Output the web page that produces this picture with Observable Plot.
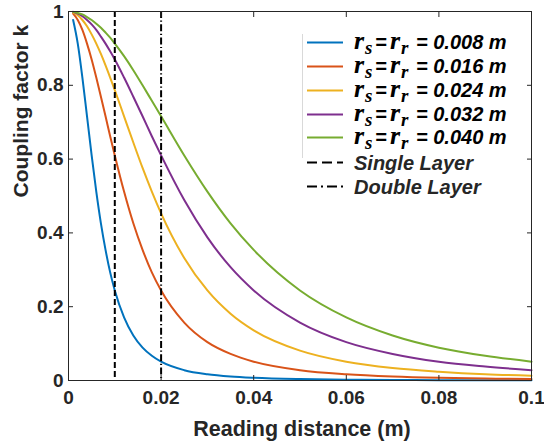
<!DOCTYPE html>
<html>
<head>
<meta charset="utf-8">
<script src="https://cdn.jsdelivr.net/npm/d3@7"></script>
<script src="https://cdn.jsdelivr.net/npm/@observablehq/plot@0.6"></script>
<style>
  html, body { margin: 0; padding: 0; background: #fff; }
  #chart { width: 544px; height: 445px; }
</style>
</head>
<body>
<div id="chart"></div>
<script>
// Reading distance (m)
const distance = [0.001, 0.002, 0.003, 0.004, 0.005, 0.006, 0.007, 0.008, 0.009, 0.010,
  0.012, 0.014, 0.016, 0.018, 0.020, 0.025, 0.030, 0.035, 0.040, 0.050, 0.060, 0.070, 0.080, 0.090, 0.100];

// Coupling factor k for each coil radius
const k008 = [0.977, 0.913, 0.821, 0.716, 0.610, 0.512, 0.426, 0.354, 0.293, 0.244,
  0.171, 0.122, 0.089, 0.067, 0.051, 0.028, 0.017, 0.011, 0.0075, 0.0039, 0.0023, 0.0015, 0.0010, 0.0007, 0.0005];
const k016 = [0.994, 0.977, 0.950, 0.913, 0.870, 0.821, 0.769, 0.716, 0.662, 0.610,
  0.512, 0.426, 0.354, 0.293, 0.244, 0.157, 0.104, 0.072, 0.051, 0.028, 0.017, 0.011, 0.0075, 0.0054, 0.0039];
const k024 = [0.997, 0.990, 0.977, 0.960, 0.938, 0.913, 0.885, 0.854, 0.821, 0.787,
  0.716, 0.645, 0.576, 0.512, 0.453, 0.332, 0.244, 0.181, 0.136, 0.081, 0.051, 0.034, 0.024, 0.017, 0.013];
const k032 = [0.999, 0.994, 0.987, 0.977, 0.965, 0.950, 0.932, 0.913, 0.892, 0.870,
  0.821, 0.769, 0.716, 0.662, 0.610, 0.489, 0.388, 0.307, 0.244, 0.157, 0.104, 0.072, 0.051, 0.038, 0.028];
const k040 = [0.999, 0.996, 0.992, 0.985, 0.977, 0.967, 0.956, 0.943, 0.929, 0.913,
  0.879, 0.841, 0.800, 0.758, 0.716, 0.610, 0.512, 0.426, 0.354, 0.244, 0.171, 0.122, 0.089, 0.067, 0.051];

const seriesValues = [k008, k016, k024, k032, k040];
const radii = ["0.008", "0.016", "0.024", "0.032", "0.040"];
const seriesColors = ["#0072BD", "#D95319", "#EDB120", "#7E2F8E", "#77AC30"];

// Layer reading distances (vertical reference lines)
const singleLayer = [0.01];
const doubleLayer = [0.02];
const layerLabels = ["Single Layer", "Double Layer"];

const xTicks = [0, 0.02, 0.04, 0.06, 0.08, 0.1];
const xTickLabels = ["0", "0.02", "0.04", "0.06", "0.08", "0.1"];
const yTicks = [0, 0.2, 0.4, 0.6, 0.8, 1];
const yTickLabels = ["0", "0.2", "0.4", "0.6", "0.8", "1"];
const xTitle = "Reading distance (m)";
const yTitle = "Coupling factor k";

const rows = seriesValues.flatMap((vals, s) =>
  vals.map((k, i) => ({d: distance[i], k, series: radii[s]})));

const ink = "#262626";
const font = "'Liberation Sans', Arial, Helvetica, sans-serif";

const chart = Plot.plot({
  width: 544,
  height: 445,
  marginLeft: 68,
  marginRight: 13,
  marginTop: 11,
  marginBottom: 65,
  style: {fontFamily: font, color: ink, background: "#fff"},
  x: {domain: [0, 0.1]},
  y: {domain: [0, 1]},
  color: {domain: radii, range: seriesColors},
  marks: [
    Plot.line(rows, {x: "d", y: "k", stroke: "series", strokeWidth: 2, curve: "monotone-x"}),
    Plot.ruleX(singleLayer, {stroke: "#000", strokeWidth: 2, strokeDasharray: "6,3"}),
    Plot.ruleX(doubleLayer, {stroke: "#000", strokeWidth: 2, strokeDasharray: "7,2.5,1.2,2.5"}),
    Plot.frame({stroke: ink, strokeWidth: 1}),
    // inward ticks on all four sides (outward ticks shifted inside the frame)
    Plot.axisX(xTicks, {anchor: "bottom", tickSize: 5, dy: -5, tickFormat: () => "", label: null, stroke: ink}),
    Plot.axisX(xTicks, {anchor: "top", tickSize: 5, dy: 5, tickFormat: () => "", label: null, stroke: ink}),
    Plot.axisY(yTicks, {anchor: "left", tickSize: 5, dx: 5, tickFormat: () => "", label: null, stroke: ink}),
    Plot.axisY(yTicks, {anchor: "right", tickSize: 5, dx: -5, tickFormat: () => "", label: null, stroke: ink}),
    // tick labels
    Plot.axisX(xTicks, {anchor: "bottom", tickSize: 0, tickPadding: 10, tickFormat: (d, i) => xTickLabels[i],
      label: null, fontSize: 19, fontWeight: "bold", fill: ink}),
    Plot.axisY(yTicks, {anchor: "left", tickSize: 0, tickPadding: 5, tickFormat: (d, i) => yTickLabels[i],
      label: null, fontSize: 19, fontWeight: "bold", fill: ink}),
    // axis titles
    Plot.text([xTitle], {frameAnchor: "bottom", text: d => d, dy: 40, dx: 2, lineAnchor: "top",
      fontSize: 21.5, fontWeight: "bold", fill: ink}),
    Plot.text([yTitle], {frameAnchor: "left", text: d => d, dx: -55, dy: 1.5, rotate: -90, lineAnchor: "top",
      fontSize: 21, fontWeight: "bold", fill: ink})
  ]
});

document.getElementById("chart").appendChild(chart);

// Legend (drawn inside the plot area)
const svg = d3.select(chart);
const lg = svg.append("g").attr("class", "legend").attr("text-anchor", "start");
const rowY = [42.5, 66.5, 90.5, 114.5, 137.5, 162.5, 186.5];
const sx0 = 307, sx1 = 343, tx = 354;

lg.append("line").attr("x1", 302.5).attr("x2", 302.5).attr("y1", 34).attr("y2", 158)
  .attr("stroke", "#d9d9d9").attr("stroke-width", 1);

const serif = "'Liberation Serif', 'Times New Roman', serif";
radii.forEach((r, i) => {
  const y = rowY[i];
  lg.append("line").attr("x1", sx0).attr("x2", sx1).attr("y1", y).attr("y2", y)
    .attr("stroke", seriesColors[i]).attr("stroke-width", 2);
  const t = lg.append("text").attr("y", y + 6.5).attr("text-anchor", "start")
    .attr("font-family", font).attr("font-weight", "bold").attr("font-style", "italic")
    .attr("font-size", 20).attr("fill", "#000");
  t.append("tspan").attr("x", tx).attr("font-family", serif).attr("font-size", 26).text("r");
  t.append("tspan").attr("x", tx + 11).attr("font-family", serif).attr("font-size", 19).attr("dy", 5).text("s");
  t.append("tspan").attr("x", tx + 21).attr("dy", -5).text("=");
  t.append("tspan").attr("x", tx + 36).attr("font-family", serif).attr("font-size", 26).text("r");
  t.append("tspan").attr("x", tx + 47).attr("font-family", serif).attr("font-size", 19).attr("dy", 5).text("r");
  t.append("tspan").attr("x", tx + 62).attr("dy", -5).text("= " + r + " m");
});

const dashes = ["10,5", "10,4,2,4"];
layerLabels.forEach((lab, j) => {
  const y = rowY[5 + j];
  lg.append("line").attr("x1", sx0).attr("x2", sx1).attr("y1", y).attr("y2", y)
    .attr("stroke", "#000").attr("stroke-width", 2).attr("stroke-dasharray", dashes[j]);
  lg.append("text").attr("x", tx).attr("y", y + 7).attr("text-anchor", "start")
    .attr("font-family", font).attr("font-weight", "bold").attr("font-style", "italic")
    .attr("font-size", 20).attr("fill", ink).text(lab);
});
</script>
</body>
</html>
